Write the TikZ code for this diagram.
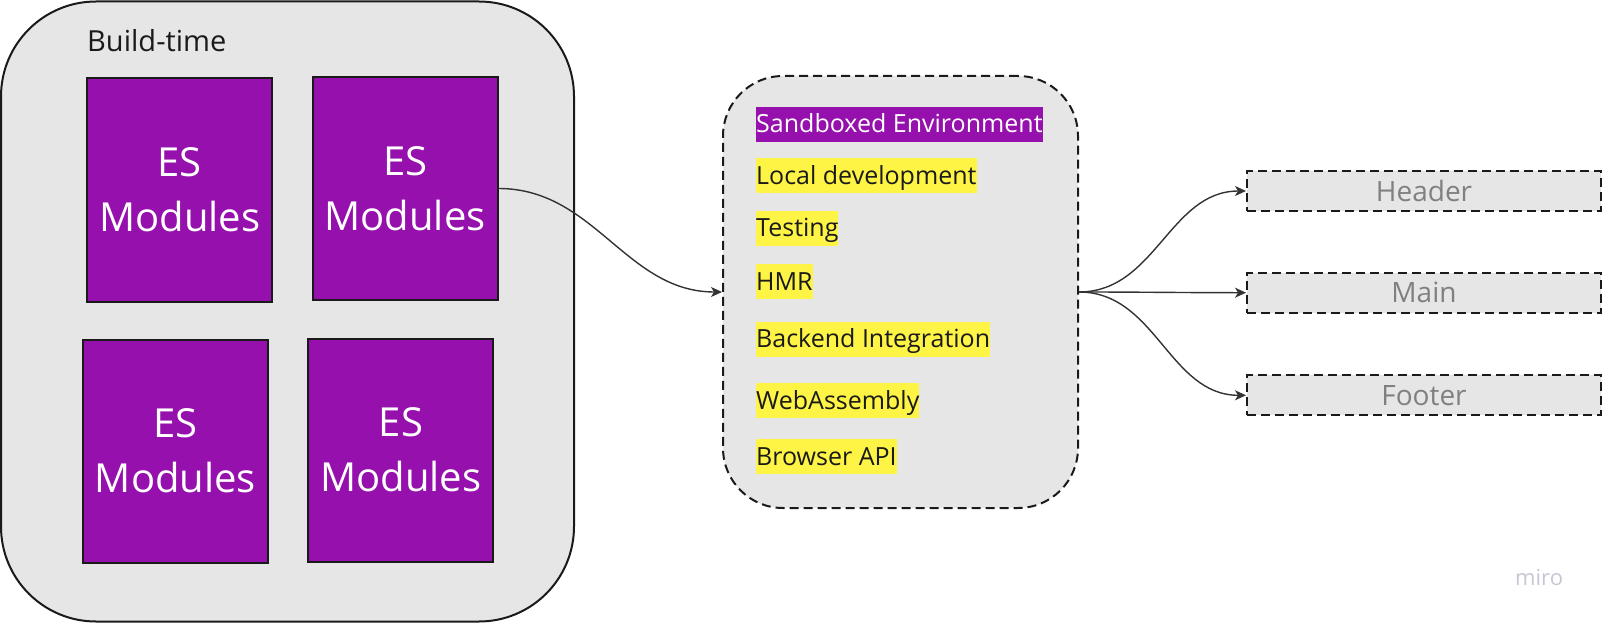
\documentclass[tikz,border=0pt]{standalone}
\usepackage{fontspec}
\setmainfont{Open Sans}
\usetikzlibrary{arrows.meta}
\definecolor{purp}{HTML}{9510AC}
\definecolor{boxgray}{HTML}{E6E6E6}
\definecolor{hlyellow}{HTML}{FEF445}
\definecolor{ink}{HTML}{1A1A1A}
\definecolor{linec}{HTML}{333333}
\definecolor{greytext}{HTML}{808080}
\definecolor{mirogray}{HTML}{C6C6D4}
\tikzset{
  outerbox/.style={draw=ink, line width=2pt, fill=boxgray, rounded corners=95pt, inner sep=0pt},
  esbox/.style={draw=ink, line width=2pt, fill=purp, text=white, align=center,
    font=\fontsize{40}{55}\selectfont, inner sep=0pt, minimum width=185pt, minimum height=223pt},
  dashbox/.style={draw=ink, line width=2pt, dash pattern=on 9pt off 5pt, fill=boxgray, inner sep=0pt},
  hl/.style={fill=hlyellow, text=ink, inner sep=0pt, text height=26pt, text depth=9pt,
    font=\fontsize{25}{30}\selectfont, anchor=base west},
  hlp/.style={hl, fill=purp, text=white},
  outbox/.style={dashbox, minimum width=354pt, minimum height=40pt, text=greytext,
    font=\fontsize{28}{32}\selectfont},
  conn/.style={draw=linec, line width=1.4pt, -{Stealth[length=11pt, width=10pt, inset=3pt]}}
}
\begin{document}
\begin{tikzpicture}[x=1pt,y=-1pt]
\useasboundingbox (0,0) rectangle (1603,623);
% build-time group
\node[outerbox, minimum width=573pt, minimum height=620pt] (build) at (287.5,311.5) {};
\node[anchor=base west, text=ink, font=\fontsize{29}{34}\selectfont, inner sep=0pt] (buildlbl) at (87,52) {Build-time};
\node[esbox] (es1) at (179.7,190) {ES\\Modules};
\node[esbox] (es2) at (405.1,188.5) {ES\\Modules};
\node[esbox] (es3) at (175.4,451) {ES\\Modules};
\node[esbox] (es4) at (400.9,450) {ES\\Modules};
% sandbox
\node[dashbox, rounded corners=60pt, minimum width=355pt, minimum height=432pt] (mid) at (900.5,292) {};
\node[hlp] (l1) at (756,132.7) {Sandboxed Environment};
\node[hl] (l2) at (756,184.3) {Local development};
\node[hl] (l3) at (756,236.7) {Testing};
\node[hl] (l4) at (756,290.3) {HMR};
\node[hl] (l5) at (756,347.7) {Backend Integration};
\node[hl] (l6) at (756,409.3) {WebAssembly};
\node[hl] (l7) at (756,465) {Browser API};
% outputs
\node[outbox] (hdr) at (1424,191) {Header};
\node[outbox] (mainb) at (1424,292.7) {Main};
\node[outbox] (ftr) at (1424,395.3) {Footer};
% connectors
\draw[conn] (es2.east) to[out=0,in=180] (mid.west);
\draw[conn] (mid.east) to[out=0,in=180] (hdr.west);
\draw[conn] (mid.east) to[out=0,in=180] (mainb.west);
\draw[conn] (mid.east) to[out=0,in=180] (ftr.west);
% watermark
\node[anchor=base west, text=mirogray, font=\fontsize{22}{26}\selectfont, inner sep=0pt] (miro) at (1515,585) {miro};
\end{tikzpicture}
\end{document}
